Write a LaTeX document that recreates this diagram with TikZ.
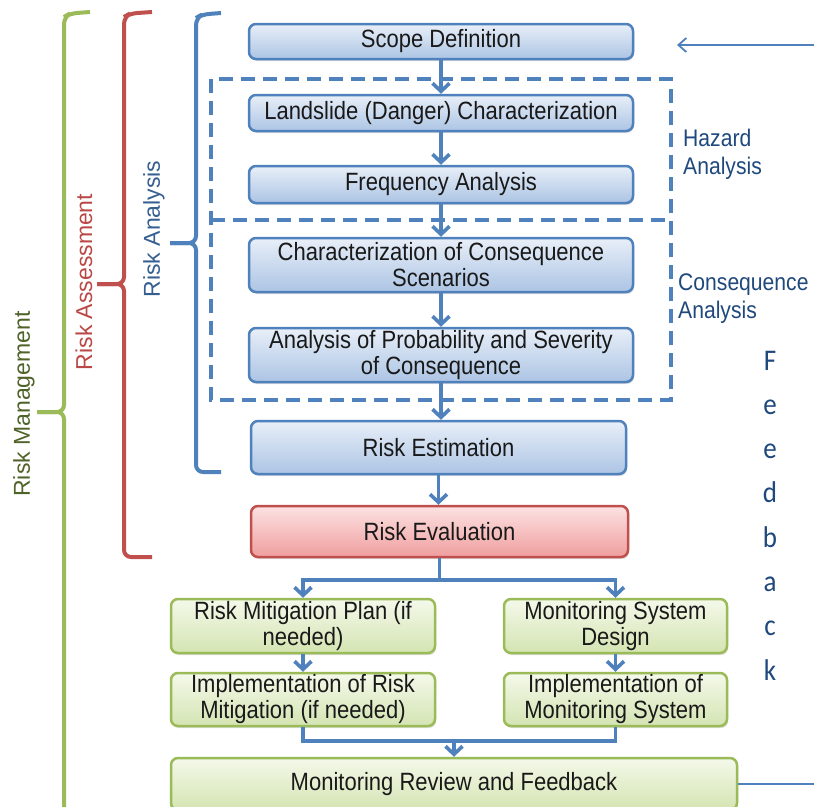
\documentclass[tikz,border=0pt]{standalone}
\usepackage{fontspec}
\setmainfont{Liberation Sans}[FakeStretch=0.88]
\newfontfamily\rotfont{Liberation Sans}
\newfontfamily\fbfont{Carlito}[FakeStretch=0.9]
\usetikzlibrary{arrows.meta,shadows}
\definecolor{bblue}{RGB}{79,129,189}
\definecolor{bred}{RGB}{192,80,77}
\definecolor{bgreen}{RGB}{155,187,89}
\definecolor{tnavy}{RGB}{31,73,125}
\definecolor{tgreen}{RGB}{79,98,40}
\definecolor{tred}{RGB}{185,72,70}
\definecolor{tblue}{RGB}{54,95,145}
\definecolor{btop}{RGB}{232,239,248}
\definecolor{bbot}{RGB}{172,196,228}
\definecolor{rtop}{RGB}{252,226,226}
\definecolor{rbot}{RGB}{240,158,158}
\definecolor{gtop}{RGB}{244,249,234}
\definecolor{gbot}{RGB}{212,228,178}
\tikzset{
  box/.style={rounded corners=7pt, line width=2.5pt, align=center, inner sep=0pt,
    font=\fontsize{25}{26}\selectfont, text=black!90,
    drop shadow={opacity=0.25,shadow xshift=1pt,shadow yshift=-2pt}},
  bbox/.style={box, draw=bblue, top color=btop, bottom color=bbot},
  rbox/.style={box, draw=bred, top color=rtop, bottom color=rbot},
  gbox/.style={box, draw=bgreen, top color=gtop, bottom color=gbot},
  arr/.style={draw=bblue, line width=3.6pt, -{Straight Barb[length=8pt,width=17pt]}},
  ln/.style={draw=bblue, line width=3.6pt},
  fbarr/.style={draw=bblue, line width=2pt, -{Straight Barb[length=8pt,width=14pt,line width=1.8pt]}},
  dsh/.style={draw=bblue, line width=3.6pt, dash pattern=on 14pt off 8pt},
  brk/.style={line width=4pt, rounded corners=7pt},
  lbl/.style={text=tnavy, align=left, inner sep=0pt, font=\fontsize{24}{28}\selectfont},
  rlbl/.style={rotate=90, inner sep=0pt, font=\rotfont\fontsize{23}{23}\selectfont},
  fbl/.style={text=tnavy, inner sep=0pt, anchor=base, font=\fbfont\fontsize{30}{30}\selectfont}
}
\begin{document}
\begin{tikzpicture}[x=1pt,y=-1pt]
\useasboundingbox (0,0) rectangle (814,806);
\fill[white] (0,0) rectangle (814,806);

% dashed analysis frames
\draw[dsh] (211,79) rectangle (671,400);
\draw[dsh] (211,220) -- (671,220);

% brackets
\draw[brk, bgreen] (90,12) -- (70,13.5) -- (64,17) -- (64,412) -- (37,412);
\draw[brk, bgreen] (37,412) -- (64,412) -- (64,830);
\draw[brk, bred] (152,12) -- (130,13.5) -- (124,17) -- (124,284) -- (97,284);
\draw[brk, bred] (97,284) -- (124,284) |- (152,557);
\draw[brk, bblue] (221,13) -- (202,14.5) -- (196,18) -- (196,243) -- (170,243);
\draw[brk, bblue] (170,243) -- (196,243) |- (221,472);

\node[rlbl, text=tgreen] (lrm) at (24,404) {Risk Management};
\node[rlbl, text=tred] (lra) at (84,282) {Risk Assessment};
\node[rlbl, text=tblue] (lran) at (154,229) {Risk Analysis};

% main column
\node[bbox, minimum width=384pt, minimum height=35pt] (sd) at (441,41.5) {Scope Definition};
\node[bbox, minimum width=384pt, minimum height=36pt] (ls) at (441,113) {Landslide (Danger) Characterization};
\node[bbox, minimum width=384pt, minimum height=37pt] (fa) at (441,184.5) {Frequency Analysis};
\node[bbox, minimum width=384pt, minimum height=54pt] (cc) at (441,265) {Characterization of Consequence\\Scenarios};
\node[bbox, minimum width=384pt, minimum height=54pt] (ap) at (441,355) {Analysis of Probability and Severity\\of Consequence};
\node[bbox, minimum width=375pt, minimum height=53pt] (re) at (438.5,447.5) {Risk Estimation};
\node[rbox, minimum width=377pt, minimum height=51pt] (rv) at (439.5,531.5) {Risk Evaluation};

\node[gbox, minimum width=264pt, minimum height=54pt] (rmp) at (303,626) {Risk Mitigation Plan (if\\needed)};
\node[gbox, minimum width=223pt, minimum height=54pt] (msd) at (615.5,626) {Monitoring System\\Design};
\node[gbox, minimum width=264pt, minimum height=53pt] (irm) at (303,699.5) {Implementation of Risk\\Mitigation (if needed)};
\node[gbox, minimum width=223pt, minimum height=53pt] (ims) at (615.5,699.5) {Implementation of\\Monitoring System};
\node[gbox, minimum width=566pt, minimum height=52pt] (mr) at (454,784) {Monitoring Review and Feedback};

% labels
\node[lbl, anchor=west] (lha) at (683,154) {Hazard\\Analysis};
\node[lbl, anchor=west] (lca) at (678,298.5) {Consequence\\Analysis};

\foreach \c [count=\i from 0] in {F,e,e,d,b,a,c,k}
  \node[fbl] (fb\i) at (770,{370+44.3*\i}) {\c};

% connectors
\draw[arr] (sd.south) -- (ls.north);
\draw[arr] (ls.south) -- (fa.north);
\draw[arr] (fa.south) -- (cc.north);
\draw[arr] (cc.south) -- (ap.north);
\draw[arr] (ap.south) -- (ap.south |- re.north);
\draw[arr] (re.south) -- (re.south |- rv.north);
\coordinate (br) at (439.5,580);
\draw[ln] (rv.south) -- (br);
\draw[arr] (br) -| (rmp.north);
\draw[arr] (br) -| (msd.north);
\draw[arr] (rmp.south) -- (irm.north);
\draw[arr] (msd.south) -- (ims.north);
\coordinate (mj) at (454,741);
\draw[ln] (irm.south) |- (mj) -| (ims.south);
\draw[arr] (mj) -- (mr.north);

% feedback loop
\coordinate (fbt) at (677,45);
\coordinate (fr1) at (830,784);
\coordinate (fr2) at (830,45);
\draw[fbarr] (mr.east) -- (fr1) -- (fr2) -- (fbt);
\end{tikzpicture}
\end{document}
